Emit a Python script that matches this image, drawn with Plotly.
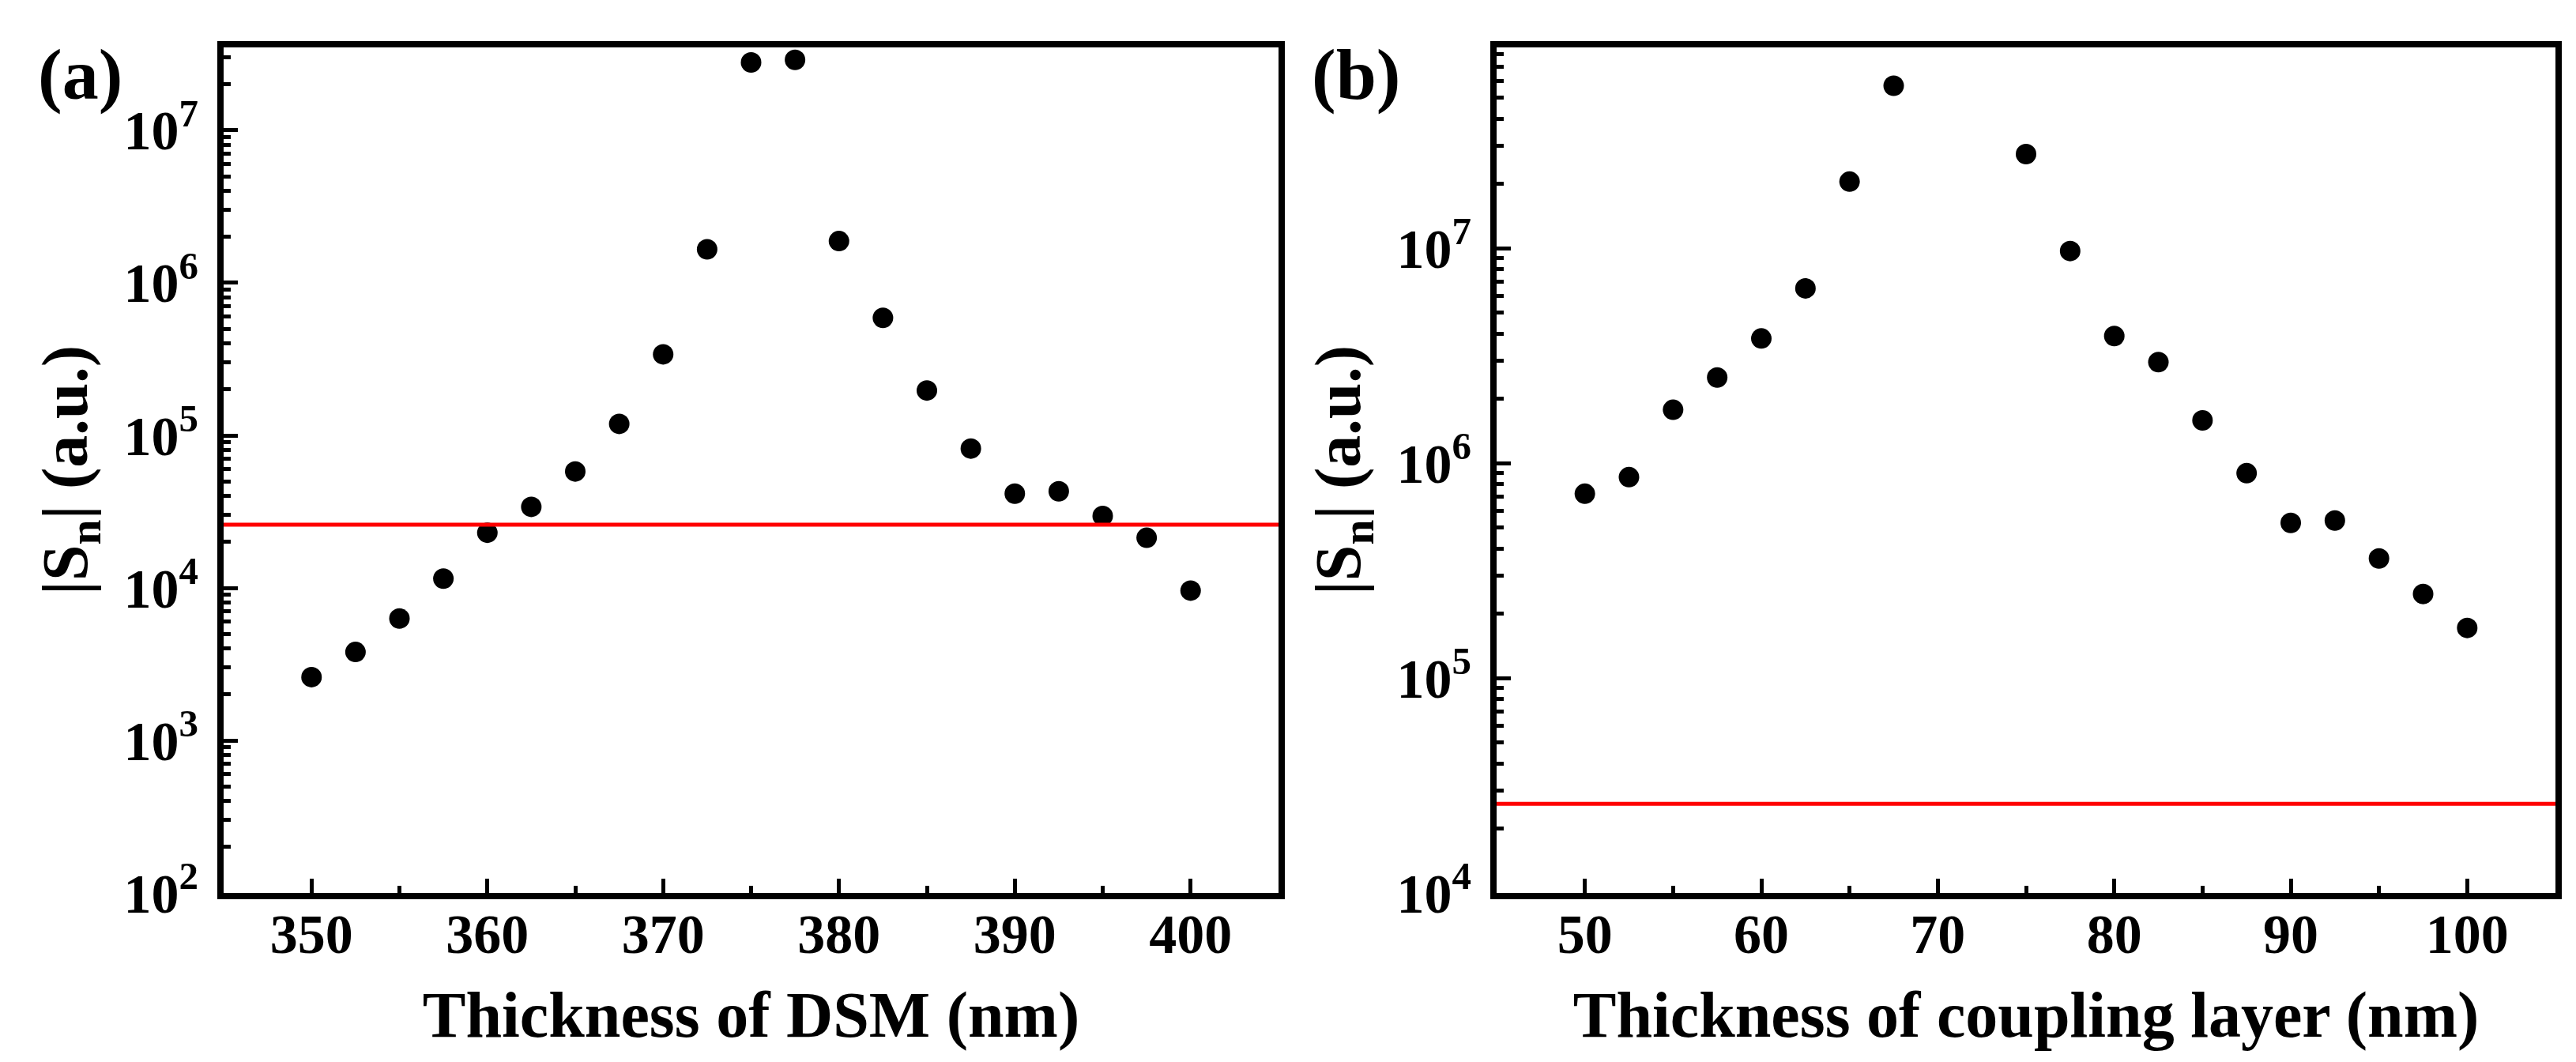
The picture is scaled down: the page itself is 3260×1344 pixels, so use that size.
import plotly.graph_objects as go

# panel (a): DSM thickness sweep
dsm_thickness = [350, 352.5, 355, 357.5, 360, 362.5, 365, 367.5, 370, 372.5, 375,
                 377.5, 380, 382.5, 385, 387.5, 390, 392.5, 395, 397.5, 400]
dsm_sn = [2.6e3, 3.8e3, 6.3e3, 1.15e4, 2.3e4, 3.4e4, 5.8e4, 1.19e5, 3.4e5, 1.66e6, 2.79e7,
          2.9e7, 1.88e6, 5.9e5, 1.97e5, 8.2e4, 4.15e4, 4.3e4, 2.96e4, 2.13e4, 9.6e3]

# panel (b): coupling layer thickness sweep
cpl_thickness = [50, 52.5, 55, 57.5, 60, 62.5, 65, 67.5, 75, 77.5,
                 80, 82.5, 85, 87.5, 90, 92.5, 95, 97.5, 100]
cpl_sn = [7.2e5, 8.6e5, 1.77e6, 2.5e6, 3.8e6, 6.5e6, 2.04e7, 5.7e7, 2.74e7, 9.7e6,
          3.9e6, 2.95e6, 1.58e6, 8.97e5, 5.27e5, 5.4e5, 3.6e5, 2.46e5, 1.71e5]

threshold = 2.6e4

ytick_vals_a = [1e2, 1e3, 1e4, 1e5, 1e6, 1e7]
ytick_text_a = ["10<sup>2</sup>", "10<sup>3</sup>", "10<sup>4</sup>", "10<sup>5</sup>",
                "10<sup>6</sup>", "10<sup>7</sup>"]
ytick_vals_b = [1e4, 1e5, 1e6, 1e7]
ytick_text_b = ["10<sup>4</sup>", "10<sup>5</sup>", "10<sup>6</sup>", "10<sup>7</sup>"]

FONT = "Liberation Serif"
W, H = 3260, 1344

fig = go.Figure()
fig.add_trace(go.Scatter(x=dsm_thickness, y=dsm_sn, mode="markers",
                         marker=dict(color="black", size=26), xaxis="x", yaxis="y"))
fig.add_trace(go.Scatter(x=cpl_thickness, y=cpl_sn, mode="markers",
                         marker=dict(color="black", size=26), xaxis="x2", yaxis="y2"))

for xr, yr in [("x", "y"), ("x2", "y2")]:
    fig.add_shape(type="line", xref=xr + " domain", yref=yr, x0=0, x1=1,
                  y0=threshold, y1=threshold, line=dict(color="#ff0000", width=5))

tickfont = dict(family=FONT, size=70, color="black", weight="bold")
titlefont = dict(family=FONT, size=82, color="black", weight="bold")

def xaxis_cfg(domain, rng, dtick, title, anchor):
    return dict(domain=domain, range=rng, dtick=dtick, tick0=0, anchor=anchor,
                showline=True, linecolor="black", linewidth=8, mirror=True,
                ticks="inside", ticklen=18, tickwidth=5, tickcolor="black",
                minor=dict(ticks="inside", ticklen=9, tickwidth=5, tickcolor="black", dtick=dtick / 2),
                showgrid=False, zeroline=False, tickfont=tickfont, ticklabelstandoff=-16,
                title=dict(text=title, font=titlefont, standoff=38), automargin=False)

def yaxis_cfg(anchor, rng, vals, text):
    return dict(type="log", domain=[1 - 1122 / H, 1 - 52 / H], range=rng, anchor=anchor,
                tickvals=vals, ticktext=text,
                showline=True, linecolor="black", linewidth=8, mirror=True,
                ticks="inside", ticklen=18, tickwidth=5, tickcolor="black",
                minor=dict(ticks="inside", ticklen=9, tickwidth=5, tickcolor="black", dtick="D1"),
                showgrid=False, zeroline=False, tickfont=tickfont, ticklabelstandoff=10,
                title=dict(text="|S<sub>n</sub>| (a.u.)", font=titlefont, standoff=22),
                automargin=False)

fig.update_layout(
    width=W, height=H,
    margin=dict(l=0, r=0, t=0, b=0),
    paper_bgcolor="white", plot_bgcolor="white",
    showlegend=False,
    xaxis=xaxis_cfg([275 / W, 1610 / W], [345, 405], 10, "Thickness of DSM (nm)", "y"),
    yaxis=yaxis_cfg("x", [2, 7.544], ytick_vals_a, ytick_text_a),
    xaxis2=xaxis_cfg([1886 / W, 3226 / W], [45, 105], 10, "Thickness of coupling layer (nm)", "y2"),
    yaxis2=yaxis_cfg("x2", [4, 7.934], ytick_vals_b, ytick_text_b),
)

for label, xpos in [("(a)", 93), ("(b)", 1708)]:
    fig.add_annotation(text=label, x=xpos / W, y=1 - 86 / H, xref="paper", yref="paper",
                       showarrow=False, xanchor="center", yanchor="middle",
                       font=dict(family=FONT, size=92, color="black", weight="bold"))

fig.write_html("out.html")
